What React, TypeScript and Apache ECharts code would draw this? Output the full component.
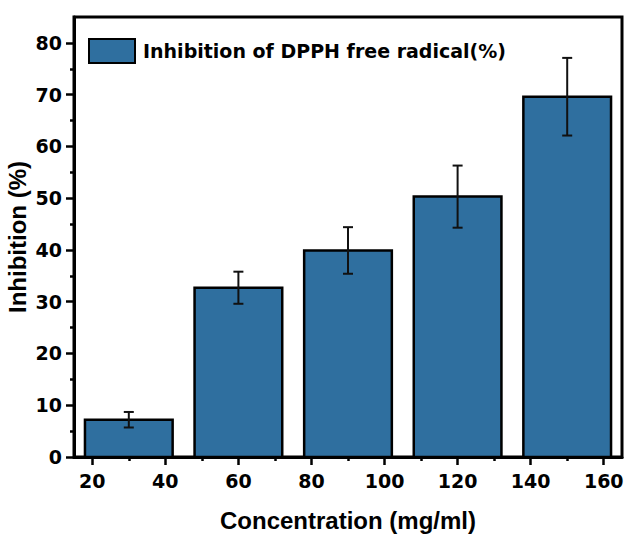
import React, { useEffect, useRef } from "react";
import * as echarts from "echarts";

const concentrations = [30, 60, 90, 120, 150];
const inhibition = [7.2, 32.7, 39.9, 50.3, 69.6];
const errors = [1.5, 3.1, 4.5, 6.0, 7.5];

const xMajorTicks = [20, 40, 60, 80, 100, 120, 140, 160];
const xMinorTicks = [30, 50, 70, 90, 110, 130, 150];
const yMajorTicks = [0, 10, 20, 30, 40, 50, 60, 70, 80];
const yMinorTicks = [5, 15, 25, 35, 45, 55, 65, 75];

const SERIES_NAME = "Inhibition of DPPH free radical(%)";
const BAR_COLOR = "#2f6f9f";
const BAR_HALF_WIDTH = 12;

export default function App() {
  const ref = useRef<HTMLDivElement>(null);
  useEffect(() => {
    if (!ref.current) return;
    const chart = echarts.init(ref.current, undefined, { renderer: "svg" });
    const data = concentrations.map((c, i) => [c, inhibition[i], errors[i]]);
    const tickFont = { fontFamily: "DejaVu Sans", fontWeight: "bold" as const, fontSize: 19, color: "#000" };
    const nameFont = { fontFamily: "Liberation Sans", fontWeight: "bold" as const, fontSize: 24, color: "#000" };
    chart.setOption({
      animation: false,
      backgroundColor: "#fff",
      grid: {
        left: 74, right: 8, top: 17, bottom: 101,
        show: true, borderColor: "#000", borderWidth: 3, backgroundColor: "transparent",
        containLabel: false, outerBoundsMode: "none",
      },
      legend: {
        left: 88,
        top: 38,
        padding: 0,
        itemWidth: 46,
        itemHeight: 24,
        data: [{ name: SERIES_NAME, icon: "rect", itemStyle: { color: BAR_COLOR, borderColor: "#000", borderWidth: 2 } }],
        textStyle: { ...tickFont, padding: [0, 0, 0, 3] },
      },
      xAxis: [
        {
          type: "value",
          min: 15,
          max: 165,
          position: "bottom",
          name: "Concentration (mg/ml)",
          nameLocation: "middle",
          nameGap: 51,
          nameMoveOverlap: false,
          nameTextStyle: nameFont,
          axisLine: { show: true, lineStyle: { color: "#000", width: 3 } },
          axisTick: { show: true, customValues: xMajorTicks, length: 8, lineStyle: { color: "#000", width: 2.5 } },
          axisLabel: { customValues: xMajorTicks, margin: 14, ...tickFont },
          splitLine: { show: false },
        },
        {
          type: "value",
          min: 15,
          max: 165,
          position: "bottom",
          axisLine: { show: false },
          axisTick: { show: true, customValues: xMinorTicks, length: 4, lineStyle: { color: "#000", width: 2.5 } },
          axisLabel: { show: false },
          splitLine: { show: false },
        },
      ],
      yAxis: [
        {
          type: "value",
          min: 0,
          max: 85,
          position: "left",
          name: "Inhibition (%)",
          nameLocation: "middle",
          nameGap: 45,
          nameMoveOverlap: false,
          nameTextStyle: nameFont,
          axisLine: { show: true, lineStyle: { color: "#000", width: 3 } },
          axisTick: { show: true, customValues: yMajorTicks, length: 8, lineStyle: { color: "#000", width: 2.5 } },
          axisLabel: { customValues: yMajorTicks, margin: 12, ...tickFont },
          splitLine: { show: false },
        },
        {
          type: "value",
          min: 0,
          max: 85,
          position: "left",
          axisLine: { show: false },
          axisTick: { show: true, customValues: yMinorTicks, length: 4, lineStyle: { color: "#000", width: 2.5 } },
          axisLabel: { show: false },
          splitLine: { show: false },
        },
      ],
      series: [
        {
          name: SERIES_NAME,
          type: "custom",
          xAxisIndex: 0,
          yAxisIndex: 0,
          encode: { x: 0, y: 1 },
          itemStyle: { color: BAR_COLOR, borderColor: "#000", borderWidth: 2 },
          data,
          renderItem: (_params: any, api: any) => {
            const x = api.value(0);
            const y = api.value(1);
            const p0 = api.coord([x - BAR_HALF_WIDTH, y]);
            const p1 = api.coord([x + BAR_HALF_WIDTH, 0]);
            return {
              type: "rect",
              shape: { x: p0[0], y: p0[1], width: p1[0] - p0[0], height: p1[1] - p0[1] },
              style: { fill: BAR_COLOR, stroke: "#000", lineWidth: 2.5 },
            };
          },
        },
        {
          name: "error",
          type: "custom",
          xAxisIndex: 0,
          yAxisIndex: 0,
          encode: { x: 0, y: 1 },
          data,
          z: 5,
          renderItem: (_params: any, api: any) => {
            const x = api.value(0);
            const y = api.value(1);
            const e = api.value(2);
            const top = api.coord([x, y + e]);
            const bot = api.coord([x, y - e]);
            const cap = 5;
            const style = { stroke: "#111", lineWidth: 2 };
            return {
              type: "group",
              children: [
                { type: "line", shape: { x1: top[0], y1: top[1], x2: bot[0], y2: bot[1] }, style },
                { type: "line", shape: { x1: top[0] - cap, y1: top[1], x2: top[0] + cap, y2: top[1] }, style },
                { type: "line", shape: { x1: bot[0] - cap, y1: bot[1], x2: bot[0] + cap, y2: bot[1] }, style },
              ],
            };
          },
        },
      ],
    });
    return () => chart.dispose();
  }, []);
  return <div ref={ref} style={{ position: "fixed", left: 0, top: 0, width: 630, height: 558, background: "#fff" }} />;
}
